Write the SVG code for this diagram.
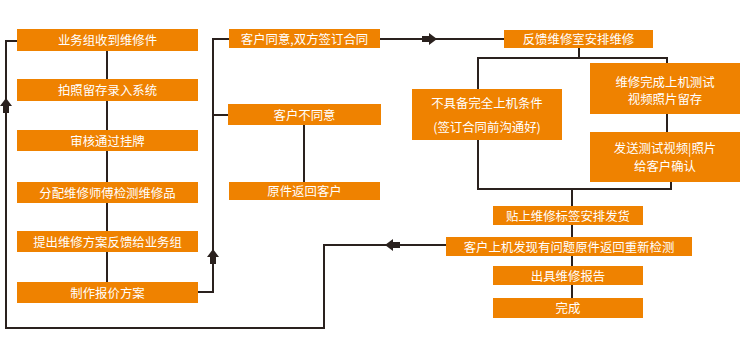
<svg xmlns="http://www.w3.org/2000/svg" width="750" height="352" viewBox="0 0 750 352">
<defs>
<style>
.b{fill:#EF8200}
.t{fill:#fff;font-family:"Noto Sans CJK SC","Noto Sans",sans-serif;font-size:12.4px;text-anchor:middle;dominant-baseline:central}
.c{fill:none;stroke:#2a211e;stroke-width:2}
.a{fill:#2a211e}
</style>
<path id="arr" d="M-15,-3 L-8,-3 L-8,-6 L0,0 L-8,6 L-8,3 L-15,3 Z"/>
</defs>
<rect width="750" height="352" fill="#fff"/>
<g id="connectors">
<path class="c" d="M107,51V282"/>
<path class="c" d="M17,41H6V328H324V245H446"/>
<path class="c" d="M198,292H213V39H229"/>
<path class="c" d="M213,115H228"/>
<path class="c" d="M304,125V182"/>
<path class="c" d="M380,39H504"/>
<path class="c" d="M579,48V58M478,89V58H667V63"/>
<path class="c" d="M667,114V132"/>
<path class="c" d="M478,140V189H671V182M572,189V298"/>
<use href="#arr" class="a" transform="translate(437,39)"/>
<use href="#arr" class="a" transform="translate(385,245) rotate(180)"/>
<use href="#arr" class="a" transform="translate(6,98) rotate(-90)"/>
<use href="#arr" class="a" transform="translate(213,249) rotate(-90)"/>
</g>
<g id="n1"><rect class="b" x="17" y="29" width="181" height="22"/><text class="t" x="107.5" y="40">业务组收到维修件</text></g>
<g id="n2"><rect class="b" x="17" y="79" width="181" height="22"/><text class="t" x="107.5" y="90">拍照留存录入系统</text></g>
<g id="n3"><rect class="b" x="17" y="130" width="181" height="21"/><text class="t" x="107.5" y="140.5">审核通过挂牌</text></g>
<g id="n4"><rect class="b" x="17" y="182" width="181" height="21"/><text class="t" x="107.5" y="192.5">分配维修师傅检测维修品</text></g>
<g id="n5"><rect class="b" x="17" y="231" width="181" height="21"/><text class="t" x="107.5" y="241.5">提出维修方案反馈给业务组</text></g>
<g id="n6"><rect class="b" x="17" y="282" width="181" height="21"/><text class="t" x="107.5" y="292.5">制作报价方案</text></g>
<g id="n7"><rect class="b" x="229" y="29" width="151" height="19"/><text class="t" x="304.5" y="38.5">客户同意,双方签订合同</text></g>
<g id="n8"><rect class="b" x="228" y="104" width="153" height="21"/><text class="t" x="304.5" y="114.5">客户不同意</text></g>
<g id="n9"><rect class="b" x="229" y="182" width="151" height="18"/><text class="t" x="304.5" y="191">原件返回客户</text></g>
<g id="n10"><rect class="b" x="504" y="30" width="149" height="18"/><text class="t" x="578.5" y="39">反馈维修室安排维修</text></g>
<g id="n11"><rect class="b" x="412" y="89" width="150" height="51"/><text class="t" x="487" y="103">不具备完全上机条件</text><text class="t" x="487" y="127">(签订合同前沟通好)</text></g>
<g id="n12"><rect class="b" x="590" y="63" width="150" height="51"/><text class="t" x="665" y="81.5">维修完成上机测试</text><text class="t" x="665" y="99">视频照片留存</text></g>
<g id="n13"><rect class="b" x="590" y="132" width="150" height="50"/><text class="t" x="665" y="148">发送测试视频|照片</text><text class="t" x="665" y="165.5">给客户确认</text></g>
<g id="n14"><rect class="b" x="493" y="206" width="150" height="19"/><text class="t" x="568" y="215.5">贴上维修标签安排发货</text></g>
<g id="n15"><rect class="b" x="446" y="237" width="246" height="19"/><text class="t" x="569" y="246.5">客户上机发现有问题原件返回重新检测</text></g>
<g id="n16"><rect class="b" x="493" y="266" width="150" height="19"/><text class="t" x="568" y="275.5">出具维修报告</text></g>
<g id="n17"><rect class="b" x="493" y="298" width="150" height="20"/><text class="t" x="568" y="308">完成</text></g>
</svg>
